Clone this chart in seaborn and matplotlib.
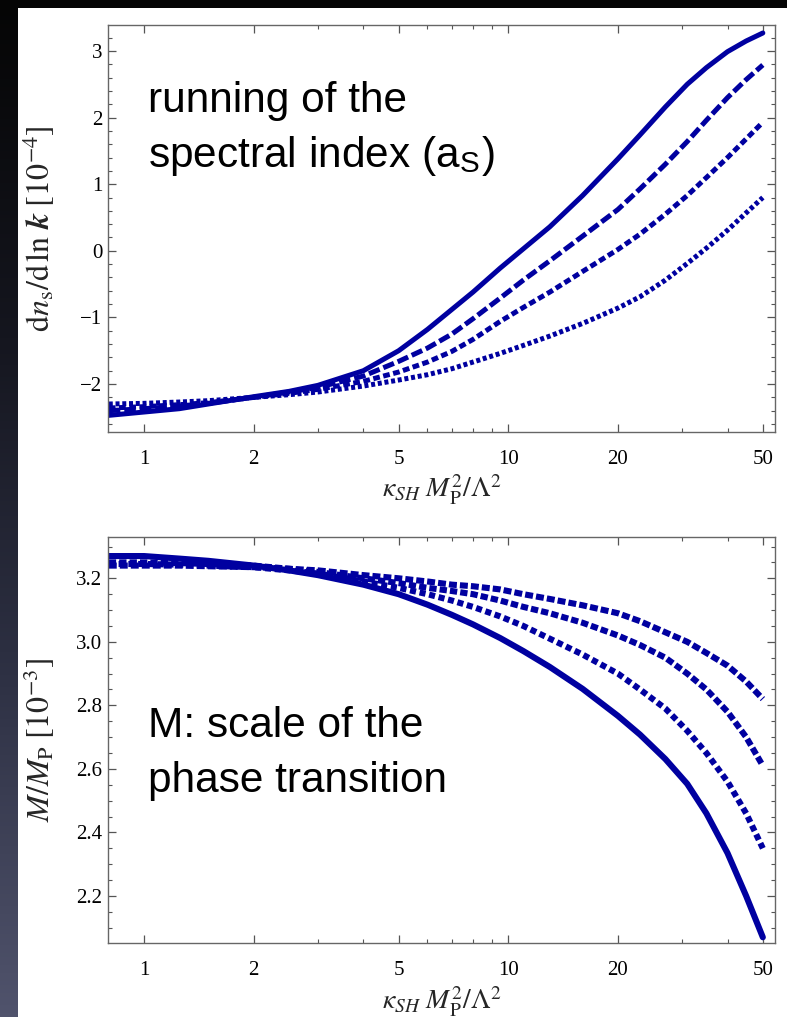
import numpy as np
import pandas as pd
import matplotlib
matplotlib.use("Agg")
import matplotlib.pyplot as plt
import seaborn as sns
from matplotlib.colors import LinearSegmentedColormap
from matplotlib.ticker import FixedLocator, FixedFormatter, MultipleLocator

# valeurs
kappa = [0.8, 1, 1.25, 1.5, 2, 2.5, 3, 4, 5, 6, 7, 8, 9.5, 11, 13, 16, 20, 23, 27, 31, 35, 40, 45, 50]

run_solid = [-2.47, -2.42, -2.37, -2.30, -2.19, -2.11, -2.02, -1.80, -1.50, -1.18, -0.88, -0.62,
             -0.26, 0.03, 0.36, 0.83, 1.38, 1.74, 2.16, 2.50, 2.75, 2.99, 3.15, 3.27]
run_dashed = [-2.40, -2.37, -2.33, -2.29, -2.20, -2.12, -2.05, -1.88, -1.66, -1.46, -1.25, -1.02,
              -0.71, -0.44, -0.15, 0.22, 0.62, 0.93, 1.30, 1.64, 1.96, 2.30, 2.57, 2.79]
run_dashdot = [-2.36, -2.34, -2.31, -2.28, -2.20, -2.14, -2.08, -1.96, -1.82, -1.67, -1.51, -1.33,
               -1.06, -0.85, -0.62, -0.31, 0.02, 0.25, 0.55, 0.83, 1.10, 1.40, 1.68, 1.93]
run_dotted = [-2.30, -2.29, -2.27, -2.25, -2.20, -2.16, -2.12, -2.03, -1.94, -1.86, -1.77, -1.67,
              -1.54, -1.42, -1.28, -1.09, -0.86, -0.69, -0.44, -0.19, 0.04, 0.31, 0.57, 0.80]

m_solid = [3.27, 3.27, 3.262, 3.255, 3.24, 3.225, 3.21, 3.18, 3.15, 3.117, 3.085, 3.055,
           3.012, 2.971, 2.921, 2.852, 2.767, 2.708, 2.631, 2.553, 2.46, 2.335, 2.20, 2.07]
m_dashed = [3.25, 3.25, 3.248, 3.245, 3.24, 3.23, 3.22, 3.20, 3.185, 3.17, 3.16, 3.15,
            3.13, 3.11, 3.09, 3.06, 3.02, 2.99, 2.95, 2.90, 2.85, 2.78, 2.70, 2.61]
m_dashdot = [3.245, 3.245, 3.243, 3.24, 3.235, 3.225, 3.215, 3.19, 3.17, 3.15, 3.13, 3.11,
             3.08, 3.05, 3.01, 2.96, 2.90, 2.85, 2.79, 2.72, 2.65, 2.56, 2.46, 2.35]
m_dotted = [3.24, 3.24, 3.24, 3.238, 3.235, 3.23, 3.225, 3.21, 3.20, 3.19, 3.18, 3.175,
            3.165, 3.15, 3.135, 3.115, 3.09, 3.065, 3.03, 3.00, 2.965, 2.925, 2.875, 2.82]

xticks = [1, 2, 5, 10, 20, 50]
xticklabels = ["1", "2", "5", "10", "20", "50"]
xminor = [3, 4, 6, 7, 8, 9, 30, 40]

blue = "#0000a0"

sns.set_theme(style="ticks")
plt.rcParams["font.family"] = ["Liberation Serif", "DejaVu Serif"]
plt.rcParams["mathtext.fontset"] = "stix"

W, H = 787, 1017
fig = plt.figure(figsize=(W / 100, H / 100), dpi=100)
fig.patch.set_facecolor("white")

# bandes sombres du fond (diapo)
cmap = LinearSegmentedColormap.from_list("bg", ["#050505", "#15161f", "#2e3144", "#50536c"])
ax_bg = fig.add_axes([0, 0, 18 / W, 1])
ax_bg.imshow(np.linspace(0, 1, 256).reshape(-1, 1), aspect="auto", cmap=cmap)
ax_bg.axis("off")
ax_top_bar = fig.add_axes([0, 1 - 8 / H, 1, 8 / H])
ax_top_bar.axis("off")
ax_top_bar.add_patch(plt.Rectangle((0, 0), 1, 1, color="#050505", transform=ax_top_bar.transAxes))


def make_df(curves):
    frames = []
    for name, vals in curves.items():
        frames.append(pd.DataFrame({"x": kappa, "y": vals, "curve": name}))
    return pd.concat(frames, ignore_index=True)


def style_axes(ax):
    ax.set_xscale("log")
    ax.set_xlim(0.796, 54)
    ax.xaxis.set_major_locator(FixedLocator(xticks))
    ax.xaxis.set_major_formatter(FixedFormatter(xticklabels))
    ax.xaxis.set_minor_locator(FixedLocator(xminor))
    ax.xaxis.set_minor_formatter(FixedFormatter([""] * len(xminor)))
    ax.tick_params(which="both", direction="in", top=True, right=True, colors="#555555",
                   labelcolor="black", labelsize=15)
    ax.tick_params(which="major", length=6, width=0.9)
    ax.tick_params(which="minor", length=3, width=0.8)
    ax.tick_params(axis="x", which="major", pad=13)
    ax.tick_params(axis="y", which="major", pad=4)
    for s in ax.spines.values():
        s.set_color("#666666")
        s.set_linewidth(1.0)
    ax.set_facecolor("white")


# panneau du haut : running of the spectral index
ax1 = fig.add_axes([108 / W, 1 - 432 / H, 667 / W, 407 / H])
df1 = make_df({"solid": run_solid, "dashed": run_dashed, "dashdot": run_dashdot, "dotted": run_dotted})
sns.lineplot(data=df1, x="x", y="y", style="curve", estimator=None, ax=ax1, color=blue,
             linewidth=3.6, legend=False,
             dashes={"solid": "", "dashed": (2.3, 0.8), "dashdot": (1.35, 0.7), "dotted": (0.8, 0.55)})
style_axes(ax1)
ax1.set_ylim(-2.72, 3.39)
ax1.yaxis.set_major_locator(MultipleLocator(1))
ax1.yaxis.set_minor_locator(MultipleLocator(0.2))
ax1.set_xlabel(r"$\kappa_{SH}\ M_{\mathrm{P}}^2/\Lambda^2$", fontsize=20)
ax1.set_ylabel(r"$\mathrm{d}n_{\mathrm{s}}/\mathrm{d}\,\ln\,\boldsymbol{k}\;[10^{-4}]$", fontsize=23)
ax1.xaxis.set_label_coords(0.5, -0.10)
ax1.yaxis.set_label_coords(-0.076, 0.5)

# panneau du bas : echelle M
ax2 = fig.add_axes([108 / W, 1 - 943 / H, 667 / W, 406 / H])
df2 = make_df({"solid": m_solid, "dashed": m_dashed, "dashdot": m_dashdot, "dotted": m_dotted})
sns.lineplot(data=df2, x="x", y="y", style="curve", estimator=None, ax=ax2, color=blue,
             linewidth=4.4, legend=False,
             dashes={"solid": "", "dashed": (1.2, 0.5), "dashdot": (1.0, 0.6), "dotted": (1.3, 0.5)})
style_axes(ax2)
ax2.set_ylim(2.052, 3.33)
ax2.yaxis.set_major_locator(MultipleLocator(0.2))
ax2.yaxis.set_minor_locator(MultipleLocator(0.05))
ax2.set_xlabel(r"$\kappa_{SH}\ M_{\mathrm{P}}^2/\Lambda^2$", fontsize=20)
ax2.set_ylabel(r"$M/M_{\mathrm{P}}\;[10^{-3}]$", fontsize=23)
ax2.xaxis.set_label_coords(0.5, -0.102)
ax2.yaxis.set_label_coords(-0.076, 0.5)

# textes ajoutes sur la diapo
txt = dict(fontsize=30.5, family=["Liberation Sans", "DejaVu Sans"], va="baseline", color="black")
fig.text(148 / W, 1 - 112 / H, "running of the", **txt)
fig.text(148 / W, 1 - 167 / H, r"spectral index (a$_\mathregular{S}$)", **txt)
fig.text(148 / W, 1 - 737 / H, "M: scale of the", **txt)
fig.text(148 / W, 1 - 792 / H, "phase transition", **txt)

fig.savefig("out.png", dpi=100, facecolor=fig.get_facecolor())
